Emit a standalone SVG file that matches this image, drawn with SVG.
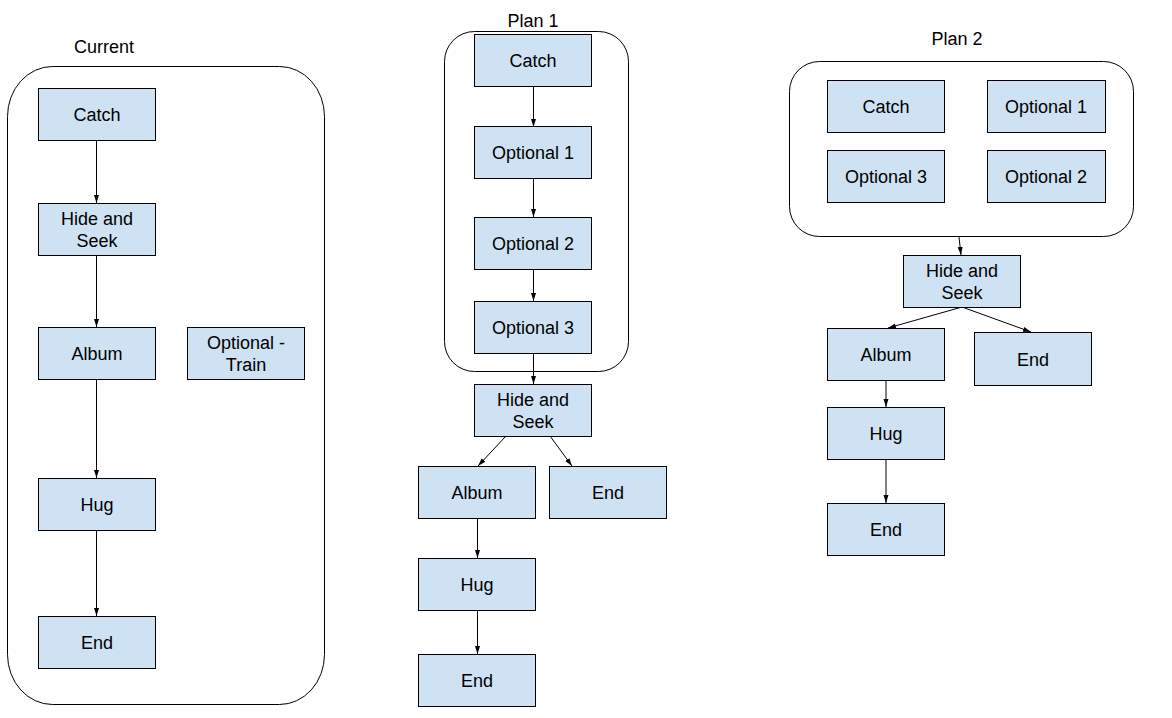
<svg xmlns="http://www.w3.org/2000/svg" width="1172" height="718" viewBox="0 0 1172 718">
<style>
.box{fill:#cfe2f3;stroke:#000;stroke-width:1}
.grp{fill:none;stroke:#000;stroke-width:1}
.t{font-family:"Liberation Sans",Arial,sans-serif;font-size:18px;fill:#000;text-anchor:middle}
.c{stroke:#000;stroke-width:1;fill:none;marker-end:url(#ah)}
</style>
<defs>
<marker id="ah" markerWidth="8" markerHeight="8" viewBox="0 0 8 8" refX="8" refY="4" orient="auto" markerUnits="userSpaceOnUse">
<path d="M0,1.5 L8,4 L0,6.5 z" fill="#000"/>
</marker>
</defs>
<rect width="1172" height="718" fill="#fff"/>

<g id="groups">
<rect id="current-group" class="grp" x="7.5" y="66.5" width="317" height="638" rx="45" ry="50"/>
<rect id="plan1-group" class="grp" x="444.5" y="31.5" width="184" height="340" rx="30" ry="30"/>
<rect id="plan2-group" class="grp" x="789.5" y="61.5" width="344" height="175" rx="30" ry="30"/>
</g>

<g id="labels">
<text class="t" x="104" y="53">Current</text>
<text class="t" x="533" y="27">Plan 1</text>
<text class="t" x="957" y="45">Plan 2</text>
</g>

<g id="connectors">
<line class="c" x1="96.5" y1="140" x2="96.5" y2="203"/>
<line class="c" x1="96.5" y1="255" x2="96.5" y2="327"/>
<line class="c" x1="96.5" y1="380" x2="96.5" y2="478"/>
<line class="c" x1="96.5" y1="530" x2="96.5" y2="616"/>

<line class="c" x1="533.5" y1="86" x2="533.5" y2="127"/>
<line class="c" x1="533.5" y1="178" x2="533.5" y2="217"/>
<line class="c" x1="533.5" y1="269" x2="533.5" y2="301"/>
<line class="c" x1="533.5" y1="353" x2="533.5" y2="384"/>
<line class="c" x1="506" y1="436" x2="478" y2="466"/>
<line class="c" x1="550" y1="436" x2="572" y2="466"/>
<line class="c" x1="477.5" y1="518" x2="477.5" y2="558"/>
<line class="c" x1="477.5" y1="610" x2="477.5" y2="654"/>

<line class="c" x1="959" y1="237" x2="961" y2="255"/>
<line class="c" x1="962" y1="307" x2="888" y2="328"/>
<line class="c" x1="962" y1="307" x2="1031" y2="332"/>
<line class="c" x1="886" y1="380" x2="886" y2="407"/>
<line class="c" x1="886" y1="459" x2="886" y2="503"/>
</g>

<g id="cur-catch"><rect class="box" x="38.5" y="88.5" width="117" height="52"/><text class="t" x="97" y="121">Catch</text></g>
<g id="cur-hide"><rect class="box" x="38.5" y="203.5" width="117" height="52"/><text class="t" x="97" y="225">Hide and</text><text class="t" x="97" y="247">Seek</text></g>
<g id="cur-album"><rect class="box" x="38.5" y="327.5" width="117" height="52"/><text class="t" x="97" y="360">Album</text></g>
<g id="cur-train"><rect class="box" x="187.5" y="327.5" width="117" height="52"/><text class="t" x="246" y="349">Optional -</text><text class="t" x="246" y="371">Train</text></g>
<g id="cur-hug"><rect class="box" x="38.5" y="478.5" width="117" height="52"/><text class="t" x="97" y="511">Hug</text></g>
<g id="cur-end"><rect class="box" x="38.5" y="616.5" width="117" height="52"/><text class="t" x="97" y="649">End</text></g>

<g id="p1-catch"><rect class="box" x="474.5" y="34.5" width="117" height="52"/><text class="t" x="533" y="67">Catch</text></g>
<g id="p1-opt1"><rect class="box" x="474.5" y="126.5" width="117" height="52"/><text class="t" x="533" y="159">Optional 1</text></g>
<g id="p1-opt2"><rect class="box" x="474.5" y="217.5" width="117" height="52"/><text class="t" x="533" y="250">Optional 2</text></g>
<g id="p1-opt3"><rect class="box" x="474.5" y="301.5" width="117" height="52"/><text class="t" x="533" y="334">Optional 3</text></g>
<g id="p1-hide"><rect class="box" x="474.5" y="384.5" width="117" height="52"/><text class="t" x="533" y="406">Hide and</text><text class="t" x="533" y="428">Seek</text></g>
<g id="p1-album"><rect class="box" x="418.5" y="466.5" width="117" height="52"/><text class="t" x="477" y="499">Album</text></g>
<g id="p1-end1"><rect class="box" x="549.5" y="466.5" width="117" height="52"/><text class="t" x="608" y="499">End</text></g>
<g id="p1-hug"><rect class="box" x="418.5" y="558.5" width="117" height="52"/><text class="t" x="477" y="591">Hug</text></g>
<g id="p1-end2"><rect class="box" x="418.5" y="654.5" width="117" height="52"/><text class="t" x="477" y="687">End</text></g>

<g id="p2-catch"><rect class="box" x="827.5" y="80.5" width="117" height="52"/><text class="t" x="886" y="113">Catch</text></g>
<g id="p2-opt1"><rect class="box" x="987.5" y="80.5" width="118" height="52"/><text class="t" x="1046" y="113">Optional 1</text></g>
<g id="p2-opt3"><rect class="box" x="827.5" y="150.5" width="117" height="52"/><text class="t" x="886" y="183">Optional 3</text></g>
<g id="p2-opt2"><rect class="box" x="987.5" y="150.5" width="118" height="52"/><text class="t" x="1046" y="183">Optional 2</text></g>
<g id="p2-hide"><rect class="box" x="903.5" y="255.5" width="117" height="52"/><text class="t" x="962" y="277">Hide and</text><text class="t" x="962" y="299">Seek</text></g>
<g id="p2-album"><rect class="box" x="827.5" y="328.5" width="117" height="52"/><text class="t" x="886" y="361">Album</text></g>
<g id="p2-end1"><rect class="box" x="974.5" y="332.5" width="117" height="53"/><text class="t" x="1033" y="366">End</text></g>
<g id="p2-hug"><rect class="box" x="827.5" y="407.5" width="117" height="52"/><text class="t" x="886" y="440">Hug</text></g>
<g id="p2-end2"><rect class="box" x="827.5" y="503.5" width="117" height="52"/><text class="t" x="886" y="536">End</text></g>
</svg>
